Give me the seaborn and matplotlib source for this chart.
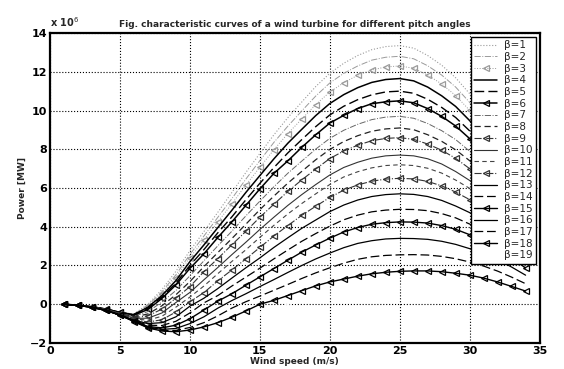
import matplotlib
matplotlib.use("Agg")
import matplotlib.pyplot as plt
import seaborn as sns

# wind speed grid (m/s)
wind_speed = list(range(1, 35))

# power curves, in units of 1e6, one list per pitch angle
p1 = [0, -0.05, -0.13, -0.25, -0.42, -0.5, 0.0, 0.76, 1.70, 2.76, 3.75, 4.75, 5.77, 6.80, 7.78, 8.74, 9.63,
      10.44, 11.24, 11.92, 12.44, 12.84, 13.14, 13.30, 13.35, 13.22, 12.84, 12.34, 11.69, 10.87, 9.92, 8.77, 7.50, 6.10]
p2 = [0, -0.05, -0.13, -0.25, -0.42, -0.52, -0.05, 0.64, 1.52, 2.57, 3.52, 4.49, 5.45, 6.46, 7.41, 8.35, 9.19,
      9.98, 10.75, 11.42, 11.92, 12.30, 12.60, 12.75, 12.8, 12.67, 12.31, 11.83, 11.21, 10.42, 9.51, 8.41, 7.19, 5.85]
p3 = [0, -0.05, -0.13, -0.25, -0.42, -0.53, -0.1, 0.55, 1.38, 2.41, 3.31, 4.26, 5.18, 6.15, 7.07, 7.97, 8.81,
      9.56, 10.31, 10.95, 11.44, 11.82, 12.09, 12.25, 12.3, 12.18, 11.83, 11.37, 10.77, 10.01, 9.14, 8.08, 6.91, 5.62]
p4 = [0, -0.05, -0.13, -0.25, -0.42, -0.54, -0.15, 0.45, 1.22, 2.20, 3.06, 3.96, 4.85, 5.77, 6.64, 7.50, 8.31,
      9.03, 9.74, 10.36, 10.82, 11.18, 11.45, 11.60, 11.65, 11.53, 11.21, 10.76, 10.21, 9.48, 8.66, 7.65, 6.55, 5.32]
p5 = [0, -0.05, -0.13, -0.25, -0.42, -0.55, -0.2, 0.37, 1.09, 2.0, 2.82, 3.69, 4.51, 5.39, 6.24, 7.05, 7.81,
      8.50, 9.17, 9.77, 10.22, 10.56, 10.81, 10.96, 11.0, 10.89, 10.58, 10.16, 9.64, 8.95, 8.17, 7.23, 6.18, 5.03]
p6 = [0, -0.05, -0.13, -0.25, -0.42, -0.57, -0.27, 0.3, 1.0, 1.85, 2.6, 3.45, 4.25, 5.1, 5.95, 6.75, 7.4,
      8.1, 8.75, 9.35, 9.75, 10.1, 10.35, 10.45, 10.5, 10.4, 10.1, 9.7, 9.2, 8.55, 7.8, 6.9, 5.9, 4.8]
p7 = [0, -0.05, -0.14, -0.28, -0.48, -0.62, -0.38, 0.11, 0.71, 1.47, 2.24, 3.02, 3.77, 4.56, 5.32, 6.06, 6.76,
      7.39, 8.01, 8.56, 8.98, 9.29, 9.53, 9.66, 9.7, 9.60, 9.33, 8.96, 8.50, 7.90, 7.21, 6.37, 5.45, 4.43]
p8 = [0, -0.05, -0.14, -0.28, -0.48, -0.66, -0.5, -0.08, 0.49, 1.17, 1.94, 2.67, 3.39, 4.13, 4.88, 5.58, 6.25,
      6.86, 7.46, 7.99, 8.40, 8.70, 8.93, 9.05, 9.1, 9.01, 8.75, 8.41, 7.97, 7.41, 6.76, 5.98, 5.11, 4.16]
p9 = [0, -0.05, -0.14, -0.28, -0.48, -0.7, -0.6, -0.25, 0.31, 0.91, 1.68, 2.36, 3.07, 3.76, 4.49, 5.16, 5.82,
      6.42, 6.98, 7.52, 7.91, 8.21, 8.44, 8.56, 8.6, 8.51, 8.27, 7.95, 7.53, 7.00, 6.39, 5.65, 4.83, 3.93]
p10 = [0, -0.05, -0.14, -0.28, -0.48, -0.73, -0.72, -0.45, 0.09, 0.61, 1.26, 1.90, 2.56, 3.20, 3.86, 4.49, 5.10,
       5.66, 6.18, 6.67, 7.06, 7.33, 7.54, 7.66, 7.7, 7.66, 7.51, 7.24, 6.85, 6.39, 5.85, 5.20, 4.43, 3.58]
p11 = [0, -0.05, -0.14, -0.28, -0.48, -0.76, -0.82, -0.62, -0.15, 0.37, 0.94, 1.58, 2.21, 2.81, 3.45, 4.07, 4.66,
       5.20, 5.70, 6.18, 6.57, 6.84, 7.04, 7.16, 7.2, 7.16, 7.02, 6.77, 6.41, 5.98, 5.47, 4.86, 4.14, 3.35]
p12 = [0, -0.05, -0.14, -0.28, -0.48, -0.79, -0.92, -0.8, -0.4, 0.13, 0.60, 1.21, 1.77, 2.34, 2.93, 3.52, 4.06,
       4.59, 5.06, 5.51, 5.89, 6.16, 6.35, 6.46, 6.5, 6.47, 6.34, 6.11, 5.79, 5.40, 4.94, 4.39, 3.74, 3.02]
p13 = [0, -0.06, -0.16, -0.32, -0.56, -0.82, -1.0, -0.95, -0.65, -0.1, 0.31, 0.81, 1.35, 1.88, 2.39, 2.93, 3.43,
       3.92, 4.35, 4.78, 5.12, 5.38, 5.56, 5.66, 5.7, 5.67, 5.56, 5.36, 5.07, 4.73, 4.33, 3.85, 3.28, 2.65]
p14 = [0, -0.06, -0.16, -0.32, -0.56, -0.84, -1.08, -1.1, -0.88, -0.45, 0.07, 0.45, 0.94, 1.40, 1.86, 2.34, 2.80,
       3.25, 3.65, 4.03, 4.36, 4.60, 4.77, 4.86, 4.9, 4.89, 4.83, 4.68, 4.46, 4.14, 3.77, 3.31, 2.77, 2.16]
p15 = [0, -0.06, -0.16, -0.32, -0.56, -0.86, -1.15, -1.22, -1.08, -0.75, -0.3, 0.16, 0.54, 0.98, 1.41, 1.84, 2.27,
       2.69, 3.06, 3.41, 3.73, 3.96, 4.13, 4.21, 4.25, 4.24, 4.19, 4.06, 3.87, 3.59, 3.27, 2.87, 2.40, 1.87]
p16 = [0, -0.06, -0.16, -0.32, -0.56, -0.87, -1.18, -1.3, -1.25, -1.0, -0.65, -0.2, 0.19, 0.54, 0.91, 1.27, 1.64,
       2.00, 2.34, 2.64, 2.92, 3.14, 3.28, 3.37, 3.4, 3.39, 3.35, 3.25, 3.09, 2.87, 2.62, 2.30, 1.92, 1.50]
p17 = [0, -0.06, -0.16, -0.32, -0.56, -0.88, -1.2, -1.36, -1.35, -1.2, -0.95, -0.6, -0.2, 0.13, 0.42, 0.72, 1.02,
       1.33, 1.62, 1.88, 2.12, 2.32, 2.45, 2.52, 2.55, 2.56, 2.54, 2.47, 2.35, 2.18, 1.97, 1.71, 1.40, 1.06]
p18 = [0, -0.06, -0.16, -0.32, -0.56, -0.9, -1.22, -1.38, -1.42, -1.33, -1.17, -0.95, -0.67, -0.35, 0.0, 0.2, 0.45,
       0.7, 0.95, 1.15, 1.3, 1.45, 1.57, 1.65, 1.7, 1.72, 1.72, 1.68, 1.6, 1.5, 1.35, 1.15, 0.92, 0.68]
p19 = [0, -0.06, -0.16, -0.32, -0.56, -0.9, -1.24, -1.42, -1.48, -1.44, -1.34, -1.17, -0.97, -0.74, -0.49, -0.24, 0.0,
       0.12, 0.26, 0.4, 0.53, 0.65, 0.75, 0.83, 0.89, 0.93, 0.95, 0.94, 0.9, 0.84, 0.76, 0.64, 0.5, 0.34]

curves = [p1, p2, p3, p4, p5, p6, p7, p8, p9, p10, p11, p12, p13, p14, p15, p16, p17, p18, p19]
labels = ["β=%d" % b for b in range(1, 20)]

# (linestyle, marker, colour, linewidth)
styles = [
    (":", None, "#9a9a9a", 0.8),
    ("-.", None, "#9a9a9a", 0.7),
    (":", "<", "#9a9a9a", 0.7),
    ("-", None, "black", 1.1),
    ((0, (7, 3)), None, "black", 1.0),
    ("-", "<", "black", 1.1),
    ("-.", None, "#666666", 0.7),
    ((0, (5, 3)), None, "#222222", 0.9),
    ("-.", "<", "#333333", 0.8),
    ("-", None, "#333333", 0.8),
    ((0, (4, 3)), None, "#444444", 0.8),
    ("-.", "<", "#333333", 0.8),
    ("-", None, "black", 0.9),
    ((0, (7, 3)), None, "black", 0.9),
    ("-", "<", "black", 1.0),
    ("-", None, "black", 0.9),
    ((0, (7, 3)), None, "black", 0.9),
    ("-", "<", "black", 1.0),
    ("-", None, "white", 0.8),
]

sns.set_style("white")
plt.rcParams['font.family'] = ['DejaVu Sans']

fig = plt.figure(figsize=(5.64, 3.69), dpi=100)
ax = fig.add_axes([0.0887, 0.0705, 0.868, 0.840])

for i in range(len(curves)):
    ls, mk, col, lw = styles[i]
    sns.lineplot(
        x=wind_speed,
        y=curves[i],
        ax=ax,
        label=labels[i],
        color=col,
        linestyle=ls,
        linewidth=lw,
        marker=mk,
        markersize=4.5,
        markerfacecolor="none",
        markeredgecolor=col,
        markeredgewidth=0.9,
        zorder=1 if i == 18 else 3,
    )

ax.set_xlim(0, 35)
ax.set_ylim(-2, 14)
ax.set_xticks(range(0, 36, 5))
ax.set_yticks(range(-2, 15, 2))
ax.grid(True, color="black", linestyle=":", linewidth=0.8)
ax.tick_params(labelsize=8, direction="in", length=3, width=1, colors="black", pad=2)
for lab in ax.get_xticklabels() + ax.get_yticklabels():
    lab.set_fontweight("bold")
for s in ax.spines.values():
    s.set_linewidth(1.6)
    s.set_color("black")

ax.set_title("Fig. characteristic curves of a wind turbine for different pitch angles",
             fontsize=6.5, fontweight="bold", pad=4)
ax.set_xlabel("Wind speed (m/s)", fontsize=6.5, fontweight="bold", labelpad=1)
ax.set_ylabel("Power [MW]", fontsize=6.5, fontweight="bold", labelpad=2)
ax.text(0.0, 1.012, r"x 10$^6$", transform=ax.transAxes, fontsize=7,
        fontweight="bold", ha="left", va="bottom")

leg = ax.legend(loc="upper right", fontsize=7.5, handlelength=2.2, labelspacing=0.16,
                borderpad=0.35, borderaxespad=0.35, handletextpad=0.6,
                frameon=True, fancybox=False, framealpha=1, edgecolor="black")
leg.get_frame().set_linewidth(1.0)

fig.savefig("out.png", dpi=100)
